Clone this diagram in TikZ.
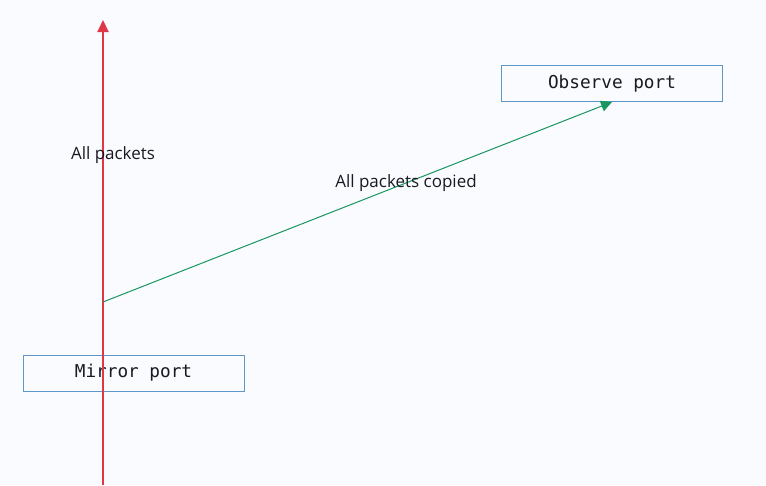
\documentclass[tikz,border=0pt]{standalone}
\usepackage{fontspec}
\setmainfont{Open Sans}
\newfontfamily\boxmono{DejaVu Sans Mono}
\usetikzlibrary{arrows.meta}
\definecolor{bgc}{RGB}{250,251,254}
\definecolor{boxc}{RGB}{95,150,200}
\definecolor{redc}{RGB}{222,55,70}
\definecolor{greenc}{RGB}{25,150,95}
\definecolor{txtc}{RGB}{25,25,35}
\tikzset{
  portbox/.style={draw=boxc, line width=1pt, minimum width=221pt, minimum height=36pt, inner sep=0pt, font=\boxmono\fontsize{17.7}{19}\selectfont, text=txtc},
  lbl/.style={font=\fontsize{17}{19}\selectfont, text=txtc, inner sep=0pt},
  redarrow/.style={draw=redc, line width=2pt, -{Triangle[length=12pt,width=11pt]}},
  greenarrow/.style={draw=greenc, line width=1pt, -{Triangle[length=11pt,width=11pt]}}
}
\begin{document}
\begin{tikzpicture}[x=1pt,y=-1pt]
\fill[bgc] (0,0) rectangle (766,485);
\useasboundingbox (0,0) rectangle (766,485);
\node[portbox] (mirror) at (133.5,373) {Mirror port};
\node[portbox] (observe) at (612,83.5) {Observe port};
\coordinate (rbot) at (103,485);
\coordinate (rtop) at (103,20);
\coordinate (tap) at (103,302);
\draw[redarrow] (rbot) -- (rtop);
\draw[greenarrow] (tap) -- (observe.south);
\node[lbl] (l1) at (113,155) {All packets};
\node[lbl] (l2) at (406,183) {All packets copied};
\end{tikzpicture}
\end{document}
